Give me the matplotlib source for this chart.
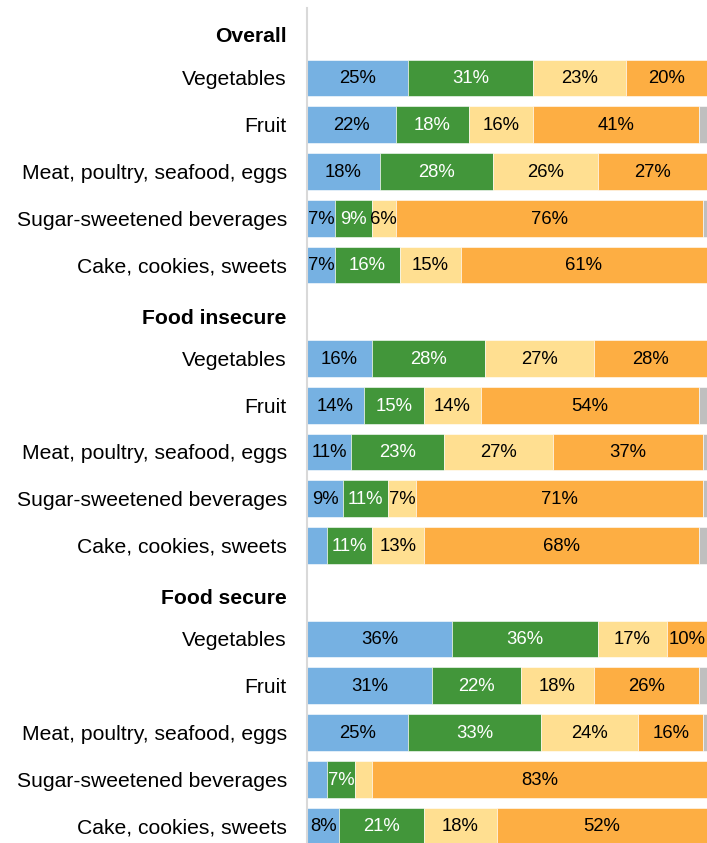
import matplotlib

matplotlib.use("Agg")
import matplotlib.pyplot as plt
import numpy as np

plt.rcParams["font.family"] = ["Liberation Sans", "DejaVu Sans"]

groups = ["Overall", "Food insecure", "Food secure"]
foods = [
    "Vegetables",
    "Fruit",
    "Meat, poultry, seafood, eggs",
    "Sugar-sweetened beverages",
    "Cake, cookies, sweets",
]

# percent of respondents per band, five foods per group in the order above
band1_pct = [25, 22, 18, 7, 7, 16, 14, 11, 9, 5, 36, 31, 25, 5, 8]
band2_pct = [31, 18, 28, 9, 16, 28, 15, 23, 11, 11, 36, 22, 33, 7, 21]
band3_pct = [23, 16, 26, 6, 15, 27, 14, 27, 7, 13, 17, 18, 24, 4, 18]
band4_pct = [20, 41, 27, 76, 61, 28, 54, 37, 71, 68, 10, 26, 16, 83, 52]

bands = [band1_pct, band2_pct, band3_pct, band4_pct]
colors = ["#76b1e2", "#42963a", "#ffdf91", "#fdae43"]
text_colors = ["black", "white", "black", "black"]
rest_color = "#bfbfbf"

fig = plt.figure(figsize=(7.07, 8.43), dpi=100)
ax = fig.add_axes([307 / 707, 0, 400 / 707, 835 / 843])

# one header row, then five bar rows, per group
header_y = [0.08, 6.11, 12.1]
bar_y = []
for g in range(len(groups)):
    bar_y += [6 * g + 1 + i for i in range(len(foods))]
bar_y = np.array(bar_y, dtype=float)

left = np.zeros(len(bar_y))
for vals, col, tcol in zip(bands, colors, text_colors):
    vals = np.array(vals, dtype=float)
    ax.barh(bar_y, vals, left=left, height=0.79, color=col,
            edgecolor="white", linewidth=0.4)
    for y, l, v in zip(bar_y, left, vals):
        if v >= 6:
            ax.text(l + v / 2, y + 0.02, f"{v:.0f}%", ha="center", va="center",
                    fontsize=13.3, color=tcol)
    left += vals

rest = 100 - left
ax.barh(bar_y, rest, left=left, height=0.79, color=rest_color,
        edgecolor="white", linewidth=0.4)

ticks = list(header_y) + list(bar_y)
labels = list(groups) + foods * len(groups)
ax.set_yticks(ticks)
ax.set_yticklabels(labels, fontsize=15.2)
for lab in ax.get_yticklabels()[:len(groups)]:
    lab.set_fontweight("bold")
ax.tick_params(axis="y", length=0, pad=14.5)

ax.set_xlim(0, 99)
ax.set_ylim(17.364, -0.497)
ax.set_xticks([])
for side in ["top", "right", "bottom"]:
    ax.spines[side].set_visible(False)
ax.spines["left"].set_color("#d9d9d9")
ax.spines["left"].set_linewidth(1.5)

plt.savefig("out.png", dpi=100)
plt.close()
